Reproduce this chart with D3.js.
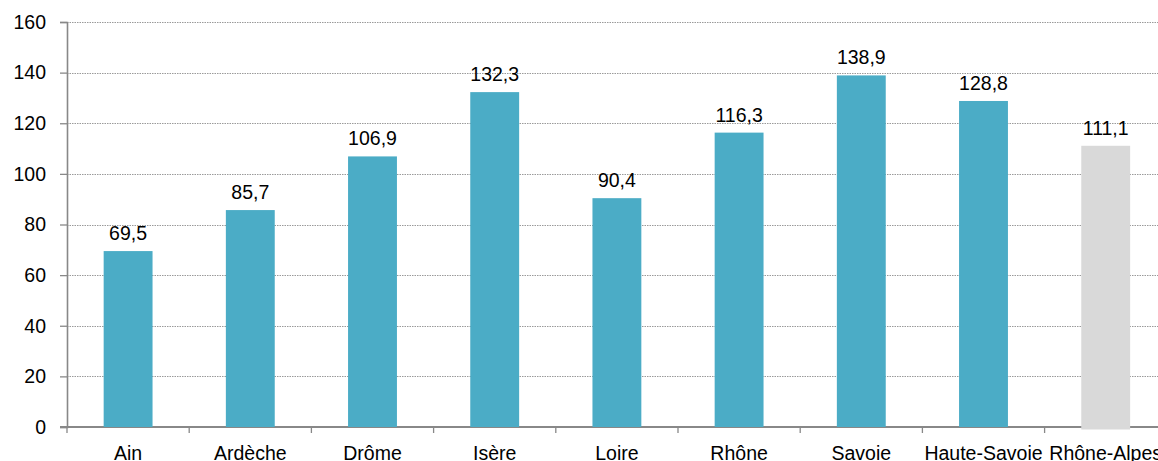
<!DOCTYPE html>
<html>
<head>
<meta charset="utf-8">
<script src="https://cdn.jsdelivr.net/npm/d3@7/dist/d3.min.js"></script>
<style>
  html, body { margin: 0; padding: 0; background: #fff; }
  svg { display: block; font-family: "Liberation Sans", Arial, sans-serif; }
</style>
</head>
<body>
<svg id="chart" width="1158" height="461"></svg>
<script>
// Departments of Rhône-Alpes and the regional figure
const categories = ["Ain", "Ardèche", "Drôme", "Isère", "Loire", "Rhône", "Savoie", "Haute-Savoie", "Rhône-Alpes"];
const values = [69.5, 85.7, 106.9, 132.3, 90.4, 116.3, 138.9, 128.8, 111.1];
const yTicks = [0, 20, 40, 60, 80, 100, 120, 140, 160];

const svg = d3.select("#chart");
const plotLeft = 67, plotTop = 22, plotBottom = 427;
const bandW = 122.2;

const x = d3.scaleBand()
  .domain(categories)
  .range([plotLeft, plotLeft + bandW * categories.length])
  .paddingInner(0.6)
  .paddingOuter(0.3);

const y = d3.scaleLinear().domain([0, 160]).range([plotBottom, plotTop]);

const fmt = v => v.toFixed(1).replace(".", ",");

// Horizontal dotted gridlines
svg.append("g")
  .selectAll("line")
  .data(yTicks.filter(d => d > 0))
  .join("line")
  .attr("x1", plotLeft)
  .attr("x2", 1158)
  .attr("y1", d => Math.round(y(d)) + 0.5)
  .attr("y2", d => Math.round(y(d)) + 0.5)
  .attr("stroke", "#9a9a9a")
  .attr("stroke-width", 1)
  .attr("stroke-dasharray", "1.5,1");

// Y axis
const yAxis = svg.append("g")
  .attr("transform", `translate(${plotLeft},0)`)
  .call(d3.axisLeft(y).tickValues(yTicks).tickSize(7).tickPadding(14).tickFormat(d3.format("d")));
yAxis.select(".domain").attr("stroke", "#888").attr("stroke-width", 1.6);
yAxis.selectAll(".tick line").attr("stroke", "#888").attr("stroke-width", 1.3);
yAxis.selectAll(".tick text")
  .attr("fill", "#000")
  .style("font-size", "19.5px")
  .style("font-family", "'Liberation Sans', Arial, sans-serif");

// X axis with ticks on category boundaries
const xAxisG = svg.append("g").attr("transform", `translate(0,${plotBottom})`);
xAxisG.append("line")
  .attr("x1", plotLeft - 7).attr("x2", 1158)
  .attr("y1", 0).attr("y2", 0)
  .attr("stroke", "#888").attr("stroke-width", 2);
xAxisG.selectAll("line.bound")
  .data(d3.range(categories.length + 1))
  .join("line")
  .attr("class", "bound")
  .attr("x1", i => plotLeft + i * x.step())
  .attr("x2", i => plotLeft + i * x.step())
  .attr("y1", 0).attr("y2", 6)
  .attr("stroke", "#888").attr("stroke-width", 1.3);
xAxisG.selectAll("text")
  .data(categories)
  .join("text")
  .attr("x", d => x(d) + x.bandwidth() / 2)
  .attr("y", 33)
  .attr("text-anchor", "middle")
  .attr("fill", "#000")
  .style("font-size", "19.5px")
  .text(d => d);

// Bars
const last = categories[categories.length - 1];
svg.append("g")
  .selectAll("rect")
  .data(categories)
  .join("rect")
  .attr("x", d => x(d))
  .attr("width", x.bandwidth())
  .attr("y", (d, i) => y(values[i]))
  .attr("height", (d, i) => y(0) - y(values[i]) + (d === last ? 2.5 : 0))
  .attr("fill", d => d === last ? "#d9d9d9" : "#4bacc6");

// Value labels
svg.append("g")
  .selectAll("text")
  .data(categories)
  .join("text")
  .attr("x", d => x(d) + x.bandwidth() / 2)
  .attr("y", (d, i) => y(values[i]) - 11)
  .attr("text-anchor", "middle")
  .attr("fill", "#000")
  .style("font-size", "19.5px")
  .text((d, i) => fmt(values[i]));
</script>
</body>
</html>
